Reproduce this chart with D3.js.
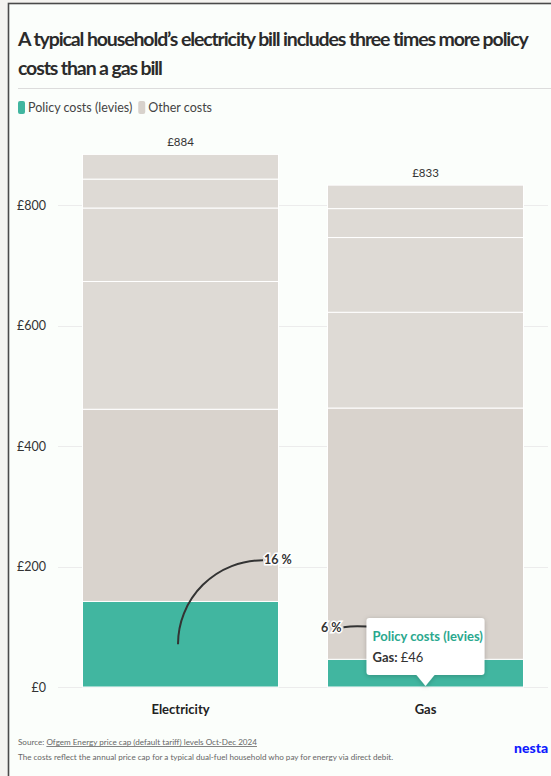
<!DOCTYPE html>
<html>
<head>
<meta charset="utf-8">
<script src="https://cdn.jsdelivr.net/npm/d3@7"></script>
<style>
  html, body { margin: 0; padding: 0; background: #f4f3f0; }
  svg { display: block; font-family: Lato, "Noto Sans", sans-serif; }
</style>
</head>
<body>
<svg id="chart" width="551" height="776"></svg>
<script>
// ---- data ----
const categories = ["Electricity", "Gas"];
const policyCosts = [142, 46];
const otherCost1 = [319, 417];
const otherCost2 = [212, 159];
const otherCost3 = [122, 124];
const otherCost4 = [48, 48];
const otherCost5 = [41, 39];
const yTicks = [0, 200, 400, 600, 800];
const legendLabels = ["Policy costs (levies)", "Other costs"];
const titleLines = ["A typical household\u2019s electricity bill includes three times more policy", "costs than a gas bill"];

const colors = { policy: "#41b6a0", other: "#dedad5", otherLow: "#d9d3cd" };

const svg = d3.select("#chart");
const W = 551, H = 776;

// frame
svg.append("rect").attr("x", 0).attr("y", 0).attr("width", W).attr("height", H).attr("fill", "#f4f3f0");
svg.append("rect").attr("x", 8.5).attr("y", 3.5).attr("width", 700).attr("height", 900)
  .attr("fill", "#fbfefb").attr("stroke", "#4a4a4a").attr("stroke-width", 1.6);

// title
const title = svg.append("text").attr("fill", "#2b2b2b").attr("font-weight", 700).attr("font-size", 19.5);
const tsp = titleLines.map((t, i) => title.append("tspan").attr("x", 18).attr("y", 46 + i * 29).text(t));
const w0 = tsp[0].node().getComputedTextLength();
if (w0 > 510) {
  const ls = (510 - w0) / titleLines[0].length;
  title.attr("letter-spacing", ls.toFixed(3));
}
// separator
svg.append("line").attr("x1", 18).attr("x2", W).attr("y1", 88.5).attr("y2", 88.5).attr("stroke", "#dcdcdc");

// legend
const lg = svg.append("g").attr("font-size", 12.5).attr("fill", "#444");
let lx = 18;
[colors.policy, "#d8d2cc"].forEach((c, i) => {
  lg.append("rect").attr("x", lx).attr("y", 101).attr("width", 7).attr("height", 13).attr("rx", 2).attr("fill", c);
  const t = lg.append("text").attr("x", lx + 10).attr("y", 112).text(legendLabels[i]);
  lx += 10 + t.node().getComputedTextLength() + 6;
});

// scales
const x = d3.scaleBand().domain(categories).range([58, 548]).paddingInner(0.2).paddingOuter(0.1);
const y = d3.scaleLinear().domain([0, 900]).range([687, 687 - 900 * 0.6025]);

// grid
const grid = svg.append("g");
grid.selectAll("line").data(yTicks).join("line")
  .attr("x1", 58).attr("x2", 548)
  .attr("y1", d => Math.round(y(d)) + 0.5).attr("y2", d => Math.round(y(d)) + 0.5)
  .attr("stroke", "#ececec");

// y axis labels
const yAxis = d3.axisLeft(y).tickValues(yTicks).tickSize(0).tickPadding(0).tickFormat(d => "\u00a3" + d);
const ya = svg.append("g").attr("transform", "translate(46,0)").call(yAxis);
ya.select(".domain").remove();
ya.selectAll("text").attr("font-family", "Lato, sans-serif").attr("font-size", 12.5).attr("fill", "#333");

// stacked data
const seriesKeys = ["policy", "o1", "o2", "o3", "o4", "o5"];
const rows = categories.map((c, i) => ({
  cat: c, policy: policyCosts[i], o1: otherCost1[i], o2: otherCost2[i], o3: otherCost3[i], o4: otherCost4[i], o5: otherCost5[i]
}));
const stacked = d3.stack().keys(seriesKeys)(rows);
const fillFor = k => k === "policy" ? colors.policy : (k === "o1" ? colors.otherLow : colors.other);

const bars = svg.append("g");
stacked.forEach(s => {
  bars.selectAll(null).data(s).join("rect")
    .attr("x", d => x(d.data.cat))
    .attr("width", x.bandwidth())
    .attr("y", d => y(d[1]))
    .attr("height", d => y(d[0]) - y(d[1]))
    .attr("fill", fillFor(s.key))
    .attr("stroke", "#ffffff").attr("stroke-width", 1);
});

// totals
const totals = rows.map(r => seriesKeys.reduce((a, k) => a + r[k], 0));
svg.append("g").selectAll("text").data(rows).join("text")
  .attr("x", (d, i) => x(d.cat) + x.bandwidth() / 2)
  .attr("y", (d, i) => y(totals[i]) - 8)
  .attr("text-anchor", "middle").attr("font-size", 11.5).attr("fill", "#333")
  .text((d, i) => "\u00a3" + totals[i]);

// x axis labels
const xAxis = d3.axisBottom(x).tickSize(0).tickPadding(0);
const xa = svg.append("g").attr("transform", "translate(0,687)").call(xAxis);
xa.select(".domain").remove();
xa.selectAll("text").attr("font-family", "Lato, sans-serif").attr("font-size", 13).attr("font-weight", 700)
  .attr("fill", "#222").attr("dy", 0).attr("y", 27);

// annotations
const pct = policyCosts.map((p, i) => Math.round(p / totals[i] * 100));
const ann = svg.append("g");
// electricity
const e0x = x(categories[0]) + x.bandwidth() / 2 - 2.5, e0y = y(policyCosts[0] / 2);
ann.append("path")
  .attr("d", `M${e0x},${e0y} A85,84 0 0 1 ${e0x + 85},${e0y - 84}`)
  .attr("fill", "none").attr("stroke", "#333").attr("stroke-width", 2);
ann.append("text").attr("x", e0x + 86).attr("y", e0y - 80)
  .attr("font-size", 12.5).attr("font-weight", 700).attr("fill", "#333")
  .attr("stroke", "#ffffff").attr("stroke-width", 3).attr("paint-order", "stroke")
  .text(pct[0] + " %");
// gas
const g0x = x(categories[1]) + x.bandwidth() / 2, g0y = y(policyCosts[1] / 2);
ann.append("path")
  .attr("d", `M${g0x},${g0y} C${g0x - 5},${g0y - 43} ${g0x - 55},${g0y - 50} ${g0x - 82},${g0y - 46}`)
  .attr("fill", "none").attr("stroke", "#333").attr("stroke-width", 2);
ann.append("text").attr("x", g0x - 84).attr("y", g0y - 41).attr("text-anchor", "end")
  .attr("font-size", 12.5).attr("font-weight", 700).attr("fill", "#333")
  .attr("stroke", "#ffffff").attr("stroke-width", 3).attr("paint-order", "stroke")
  .text(pct[1] + " %");

// tooltip
const defs = svg.append("defs");
const f = defs.append("filter").attr("id", "shadow").attr("x", "-20%").attr("y", "-20%").attr("width", "140%").attr("height", "150%");
f.append("feDropShadow").attr("dx", 0).attr("dy", 1).attr("stdDeviation", 2.5).attr("flood-color", "#000").attr("flood-opacity", 0.22);
const tx = g0x, ty = y(0);
const bx0 = tx - 59, bx1 = tx + 59, by0 = ty - 69, by1 = ty - 12;
const tip = svg.append("g");
tip.append("path")
  .attr("d", `M${bx0 + 3},${by0} H${bx1 - 3} Q${bx1},${by0} ${bx1},${by0 + 3} V${by1 - 3} Q${bx1},${by1} ${bx1 - 3},${by1} H${tx + 9} L${tx},${ty - 1} L${tx - 9},${by1} H${bx0 + 3} Q${bx0},${by1} ${bx0},${by1 - 3} V${by0 + 3} Q${bx0},${by0} ${bx0 + 3},${by0} Z`)
  .attr("fill", "#ffffff").attr("filter", "url(#shadow)");
tip.append("text").attr("x", bx0 + 6).attr("y", by0 + 23)
  .attr("font-size", 13).attr("font-weight", 700).attr("fill", "#2aa88e").text(legendLabels[0]);
const t2 = tip.append("text").attr("x", bx0 + 6).attr("y", by0 + 44).attr("font-size", 13).attr("fill", "#333");
t2.append("tspan").attr("font-weight", 700).text(categories[1] + ": ");
t2.append("tspan").text("\u00a3" + policyCosts[1]);

// footer
const ft = svg.append("g").attr("font-size", 8.1).attr("fill", "#666");
const s1 = ft.append("text").attr("x", 18).attr("y", 745);
s1.append("tspan").text("Source: ");
s1.append("tspan").attr("text-decoration", "underline").text("Ofgem Energy price cap (default tariff) levels Oct-Dec 2024");
ft.append("text").attr("x", 18).attr("y", 760).text("The costs reflect the annual price cap for a typical dual-fuel household who pay for energy via direct debit.");
svg.append("text").attr("x", 514).attr("y", 753).attr("font-size", 14).attr("font-weight", 900)
  .attr("fill", "#0f1bff").text("nesta");
</script>
</body>
</html>
